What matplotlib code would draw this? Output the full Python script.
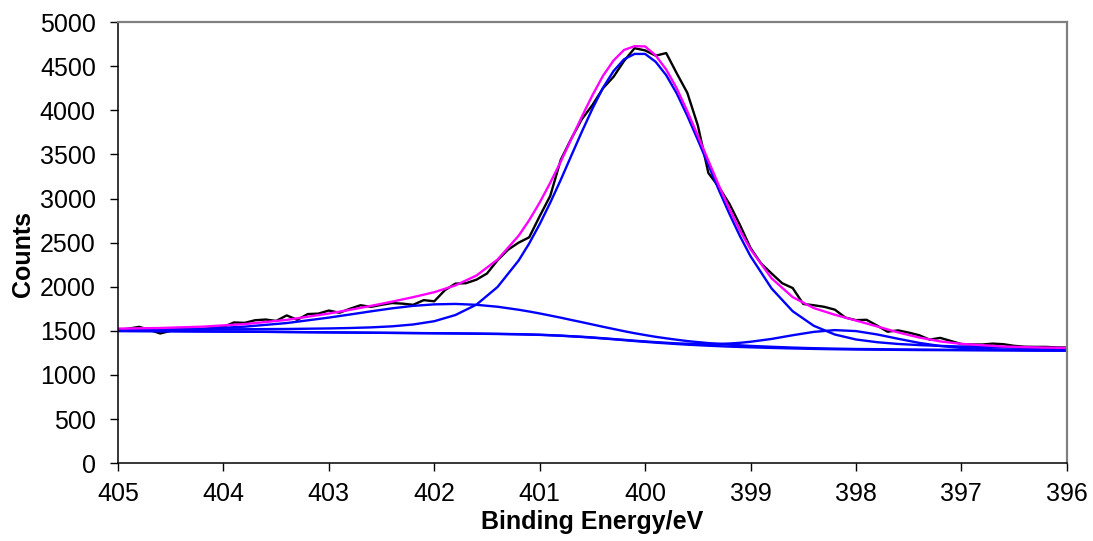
#Python code for plotting an N 1s XPS spectrum with fitted components
import numpy as np
import matplotlib.pyplot as plt

plt.rcParams['font.family'] = ['Liberation Sans', 'DejaVu Sans']

#Raw spectrum (0.1 eV steps)
raw_energy = [405.0, 404.9, 404.8, 404.7, 404.6, 404.5, 404.4, 404.3, 404.2, 404.1,
              404.0, 403.9, 403.8, 403.7, 403.6, 403.5, 403.4, 403.3, 403.2, 403.1,
              403.0, 402.9, 402.8, 402.7, 402.6, 402.5, 402.4, 402.3, 402.2, 402.1,
              402.0, 401.9, 401.8, 401.7, 401.6, 401.5, 401.4, 401.3, 401.2, 401.1,
              401.0, 400.9, 400.8, 400.7, 400.6, 400.5, 400.4, 400.3, 400.2, 400.1,
              400.0, 399.9, 399.8, 399.7, 399.6, 399.5, 399.4, 399.3, 399.2, 399.1,
              399.0, 398.9, 398.8, 398.7, 398.6, 398.5, 398.4, 398.3, 398.2, 398.1,
              398.0, 397.9, 397.8, 397.7, 397.6, 397.5, 397.4, 397.3, 397.2, 397.1,
              397.0, 396.9, 396.8, 396.7, 396.6, 396.5, 396.4, 396.3, 396.2, 396.1,
              396.0]
raw_counts = [1510, 1525, 1545, 1510, 1470, 1500, 1510, 1515, 1520, 1530,
              1545, 1595, 1590, 1620, 1628, 1612, 1675, 1625, 1690, 1695,
              1730, 1705, 1750, 1790, 1772, 1795, 1815, 1808, 1795, 1848,
              1835, 1960, 2035, 2040, 2080, 2150, 2300, 2420, 2500, 2560,
              2800, 3030, 3440, 3680, 3900, 4060, 4250, 4380, 4560, 4705,
              4680, 4620, 4650, 4420, 4200, 3830, 3290, 3130, 2940, 2700,
              2440, 2264, 2150, 2040, 1985, 1805, 1790, 1772, 1740, 1650,
              1621, 1625, 1560, 1490, 1505, 1480, 1450, 1400, 1420, 1385,
              1350, 1345, 1345, 1355, 1348, 1330, 1320, 1318, 1318, 1312,
              1310]

#Fitted curves (energies where the fit was read)
fit_energy = [405.0, 404.6, 404.2, 403.8, 403.4, 403.0, 402.8, 402.6, 402.4, 402.2,
              402.0, 401.8, 401.6, 401.4, 401.2, 401.1, 401.0, 400.9, 400.8, 400.7,
              400.6, 400.5, 400.4, 400.3, 400.2, 400.1, 400.0, 399.9, 399.8, 399.7,
              399.6, 399.5, 399.4, 399.3, 399.2, 399.1, 399.0, 398.8, 398.6, 398.4,
              398.2, 398.0, 397.8, 397.6, 397.4, 397.2, 397.0, 396.6, 396.3, 396.0]

background = [1498, 1496, 1493, 1490, 1486, 1482, 1480, 1478, 1476, 1474,
              1472, 1470, 1467, 1464, 1460, 1457, 1454, 1449, 1444, 1437,
              1430, 1422, 1413, 1404, 1394, 1384, 1375, 1366, 1358, 1350,
              1343, 1337, 1331, 1326, 1321, 1317, 1313, 1306, 1300, 1295,
              1291, 1288, 1286, 1284, 1282, 1281, 1280, 1278, 1276, 1275]

peak_400 = [1515, 1516, 1517, 1518, 1521, 1527, 1532, 1539, 1551, 1572,
            1609, 1679, 1797, 1997, 2297, 2490, 2710, 2953, 3213, 3487,
            3758, 4018, 4255, 4445, 4579, 4640, 4640, 4551, 4399, 4192,
            3939, 3665, 3381, 3095, 2825, 2573, 2346, 1980, 1722, 1557,
            1458, 1402, 1371, 1351, 1338, 1329, 1322, 1311, 1304, 1300]

peak_402 = [1508, 1512, 1523, 1547, 1588, 1650, 1685, 1721, 1755, 1783,
            1800, 1805, 1795, 1773, 1739, 1719, 1697, 1673, 1649, 1623,
            1598, 1572, 1546, 1521, 1496, 1473, 1452, 1432, 1415, 1399,
            1384, 1372, 1361, 1352, 1343, 1336, 1329, 1319, 1310, 1303,
            1298, 1294, 1292, 1289, 1287, 1285, 1284, 1281, 1279, 1278]

peak_398 = [1498, 1496, 1493, 1491, 1487, 1483, 1481, 1479, 1477, 1475,
            1473, 1471, 1469, 1466, 1462, 1459, 1456, 1451, 1446, 1439,
            1433, 1425, 1416, 1407, 1398, 1388, 1380, 1372, 1365, 1358,
            1354, 1351, 1350, 1352, 1356, 1364, 1376, 1408, 1450, 1488,
            1508, 1497, 1459, 1410, 1363, 1328, 1306, 1286, 1281, 1278]

envelope = [1525, 1532, 1547, 1576, 1624, 1696, 1738, 1783, 1831, 1882,
            1938, 2015, 2127, 2308, 2578, 2754, 2955, 3179, 3420, 3675,
            3929, 4171, 4391, 4565, 4685, 4728, 4725, 4623, 4463, 4249,
            3991, 3714, 3430, 3147, 2882, 2639, 2425, 2095, 1882, 1758,
            1682, 1617, 1550, 1482, 1424, 1380, 1352, 1322, 1312, 1306]

#Create the plot
fig = plt.figure(figsize=(10.93, 5.41), dpi=100)
ax = fig.add_axes([0.108, 0.144, 0.868, 0.815])

ax.plot(raw_energy, raw_counts, color='black', lw=1.7)
for comp in [background, peak_402, peak_398, peak_400]:
    ax.plot(fit_energy, comp, color='#0000FF', lw=1.7)
ax.plot(fit_energy, envelope, color='#FF00FF', lw=1.7)

#Axis limits and ticks
ax.set_xlim(405, 396)
ax.set_ylim(0, 5000)
ax.set_xticks(np.arange(396, 406, 1))
ax.set_yticks(np.arange(0, 5001, 500))
ax.tick_params(axis='both', direction='out', length=5.5, width=1, labelsize=18)
ax.tick_params(axis='x', pad=8)
ax.tick_params(axis='y', pad=10.5)

for side in ['top', 'right']:
    ax.spines[side].set_color('#808080')
    ax.spines[side].set_linewidth(1.6)
for side in ['left', 'bottom']:
    ax.spines[side].set_color('black')
    ax.spines[side].set_linewidth(1.1)

#Add labels
ax.set_xlabel('Binding Energy/eV', fontsize=18, fontweight='bold', labelpad=3)
ax.set_ylabel('Counts', fontsize=18, fontweight='bold')
ax.yaxis.set_label_coords(-0.088, 0.475)

#Save the plot
fig.savefig('out.png', dpi=100)
